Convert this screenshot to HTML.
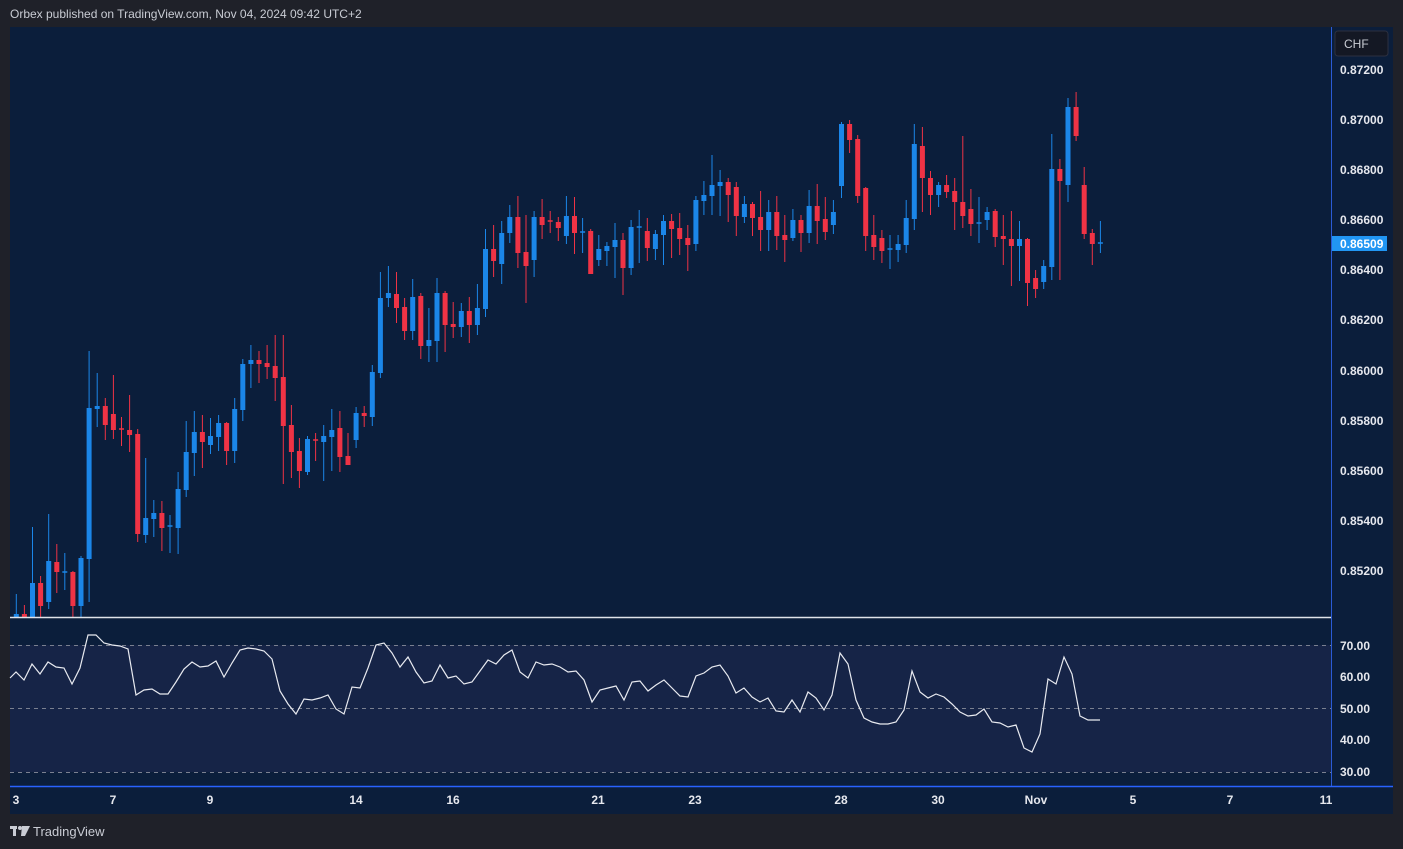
<!DOCTYPE html>
<html><head><meta charset="utf-8"><style>
html,body{margin:0;padding:0;background:#1f2129;width:1403px;height:849px;overflow:hidden;font-family:"Liberation Sans",sans-serif}
svg{display:block}
</style></head><body>
<svg id="s" width="1403" height="849" xmlns="http://www.w3.org/2000/svg" font-family="Liberation Sans, sans-serif">
<rect x="0" y="0" width="1403" height="849" fill="#1f2129"/>
<text x="10" y="18" fill="#c9ccd4" font-size="12">Orbex published on TradingView.com, Nov 04, 2024 09:42 UTC+2</text>
<rect x="10" y="27" width="1383" height="787" fill="#0b1e3b"/>
<rect x="10" y="645" width="1321" height="127" fill="#162447"/>
<g stroke="#7a8090" stroke-dasharray="4,4" stroke-width="1">
<line x1="10" y1="645.5" x2="1331" y2="645.5"/><line x1="10" y1="708.5" x2="1331" y2="708.5"/><line x1="10" y1="772.5" x2="1331" y2="772.5"/>
</g>
<g id="c"></g>
<polyline id="rsi" fill="none" stroke="#e8eaf0" stroke-width="1.2"/>
<line x1="10" y1="617.5" x2="1331" y2="617.5" stroke="#e0e3ea" stroke-width="1.5"/>
<line x1="10" y1="786.5" x2="1393" y2="786.5" stroke="#2962ff" stroke-width="1.5"/>
<line x1="1331.5" y1="27" x2="1331.5" y2="786" stroke="#2a5bd7" stroke-width="1"/>
<rect x="1335" y="31" width="53" height="25" rx="3" fill="#141824" stroke="#2c3040"/>
<text x="1344" y="48" fill="#c9ccd4" font-size="12">CHF</text>
<g fill="#e6e8ee" font-size="12" font-weight="bold">
<text x="1340" y="74">0.87200</text><text x="1340" y="124">0.87000</text><text x="1340" y="174">0.86800</text>
<text x="1340" y="224">0.86600</text><text x="1340" y="274">0.86400</text><text x="1340" y="324">0.86200</text>
<text x="1340" y="375">0.86000</text><text x="1340" y="425">0.85800</text><text x="1340" y="475">0.85600</text>
<text x="1340" y="525">0.85400</text><text x="1340" y="575">0.85200</text>
<text x="1340" y="650">70.00</text><text x="1340" y="681">60.00</text><text x="1340" y="713">50.00</text>
<text x="1340" y="744">40.00</text><text x="1340" y="776">30.00</text>
</g>
<rect x="1332" y="236" width="55" height="15" fill="#2196f3"/>
<text x="1340" y="248" fill="#ffffff" font-size="12" font-weight="bold">0.86509</text>
<g fill="#e6e8ee" font-size="12" font-weight="bold" text-anchor="middle">
<text x="16" y="804">3</text><text x="113" y="804">7</text><text x="210" y="804">9</text><text x="356" y="804">14</text>
<text x="453" y="804">16</text><text x="598" y="804">21</text><text x="695" y="804">23</text><text x="841" y="804">28</text>
<text x="938" y="804">30</text><text x="1036" y="804">Nov</text><text x="1133" y="804">5</text><text x="1230" y="804">7</text><text x="1326" y="804">11</text>
</g>
<g fill="#c9ccd4"><rect x="10" y="826" width="7" height="3"/><rect x="13" y="826" width="3" height="10"/><circle cx="20" cy="828" r="2"/><path d="M22 826h8l-5 10h-4z"/></g>
<text x="33" y="836" fill="#c9ccd4" font-size="13">TradingView</text>
</svg>
<script>
var d=[[617,614,594,617],[614,617,605,617],[617,583,527,617],[583,606,576,617],[602,561,514,609],[562,572,544,593],[572,572,553,590],[572,606,571,617],[606,558,556,617],[559,408,351,602],[409,406,373,427],[406,425,398,440],[414,430,375,439],[429,429,417,446],[430,435,395,452],[434,534,429,542],[535,518,458,543],[519,513,500,537],[513,528,501,551],[526,526,515,553],[528,489,472,554],[490,452,421,497],[453,432,411,476],[432,442,415,468],[445,436,418,454],[437,423,415,451],[423,451,422,465],[451,409,398,463],[410,364,359,421],[364,360,345,388],[360,364,351,383],[363,367,345,379],[366,378,335,401],[377,426,335,484],[425,452,405,478],[451,471,438,488],[472,439,436,475],[440,440,433,461],[442,436,425,481],[437,430,409,471],[428,457,411,472],[456,465,433,465],[440,413,407,448],[413,416,406,427],[417,372,365,426],[373,298,272,378],[298,293,266,307],[294,308,272,323],[307,331,298,340],[331,297,279,340],[296,346,293,359],[346,340,308,362],[341,293,278,362],[293,325,291,352],[324,327,302,338],[327,311,303,337],[311,325,297,343],[325,308,284,335],[309,249,229,317],[249,261,225,277],[264,233,221,284],[233,217,205,243],[217,253,196,268],[252,266,215,303],[260,217,211,277],[217,225,199,239],[221,221,211,233],[222,228,217,241],[236,216,196,244],[216,233,197,254],[232,232,218,253],[231,274,229,274],[260,249,235,266],[251,246,242,266],[247,240,223,278],[240,268,233,295],[268,227,220,275],[227,227,210,263],[231,248,218,261],[249,234,230,260],[235,221,215,265],[221,229,214,258],[228,239,213,255],[238,245,225,271],[244,200,196,251],[201,195,181,215],[196,185,155,215],[186,182,170,216],[182,195,178,222],[187,216,182,236],[217,204,196,223],[204,218,202,236],[217,230,191,251],[230,212,200,251],[212,236,196,250],[235,240,215,262],[238,220,209,241],[220,233,215,252],[233,206,190,243],[206,221,184,244],[219,232,197,240],[225,212,200,234],[186,124,122,198],[124,140,120,153],[139,196,135,203],[188,236,187,251],[235,247,215,260],[238,251,230,263],[249,249,235,269],[250,244,235,262],[245,218,200,253],[219,144,124,230],[146,178,127,212],[178,195,171,215],[195,185,182,207],[185,192,175,198],[191,202,178,230],[202,216,136,228],[209,224,189,236],[223,223,197,243],[220,212,207,230],[211,237,209,247],[236,239,215,265],[239,246,211,286],[246,239,221,281],[239,283,238,306],[278,289,270,298],[282,266,260,289],[267,169,134,280],[169,181,159,280],[185,107,98,202],[107,136,92,141],[185,234,167,239],[233,244,229,265],[243,243,221,253]];
var g=document.getElementById('c'),h='';
for(var i=0;i<d.length;i++){var x=16.3+i*8.09,o=d[i][0],c=d[i][1],up=c<o||(c==o&&i%2==0);if(c==o)up=(i==6||i==19||i==70||i==77||i==108||i==119||i==134);
var col=up?'#1b86e8':'#ef3345';var t=Math.min(o,c),b=Math.max(o,c);if(b-t<1.5){t-=0.75;b=t+1.5;}
h+='<line x1="'+x.toFixed(1)+'" y1="'+d[i][2]+'" x2="'+x.toFixed(1)+'" y2="'+Math.min(d[i][3],617)+'" stroke="'+col+'" stroke-width="1"/>';
h+='<rect x="'+(x-2.5).toFixed(1)+'" y="'+t+'" width="5" height="'+(b-t)+'" fill="'+col+'"/>';}
g.innerHTML=h;
var r=[[10,678],[16,672],[24,680],[32,664],[40,674],[48,662],[56,667],[64,668],[72,684],[80,668],[88,635],[96,635],[104,643],[112,645],[120,646],[128,649],[136,695],[144,690],[152,689],[160,694],[168,694],[176,682],[184,669],[192,662],[200,667],[208,666],[216,661],[224,677],[232,663],[240,650],[248,648],[256,649],[264,651],[272,659],[280,691],[288,704],[296,714],[304,699],[312,700],[320,698],[328,695],[336,709],[344,714],[352,687],[360,688],[368,668],[376,645],[384,643],[392,653],[400,667],[408,657],[416,672],[424,683],[432,681],[440,665],[448,678],[456,676],[464,684],[472,682],[480,671],[488,660],[496,664],[504,655],[512,650],[520,672],[528,678],[536,662],[544,665],[552,664],[560,667],[568,672],[576,671],[584,680],[592,702],[600,690],[608,688],[616,686],[624,700],[632,682],[640,681],[648,691],[656,685],[664,680],[672,688],[680,696],[688,697],[696,676],[704,673],[712,667],[720,665],[728,676],[736,693],[744,688],[752,697],[760,702],[768,698],[776,711],[784,712],[792,700],[800,712],[808,692],[816,698],[824,710],[832,695],[840,653],[848,664],[856,700],[864,718],[872,722],[880,724],[888,724],[896,722],[904,710],[912,671],[920,692],[928,698],[936,694],[944,697],[952,704],[960,712],[968,716],[976,715],[984,709],[992,722],[1000,723],[1008,727],[1016,725],[1024,748],[1032,752],[1040,734],[1048,679],[1056,684],[1064,657],[1072,674],[1080,716],[1088,720],[1100,720]];
document.getElementById('rsi').setAttribute('points',r.map(function(p){return p[0]+','+p[1]}).join(' '));
</script>
</body></html>
